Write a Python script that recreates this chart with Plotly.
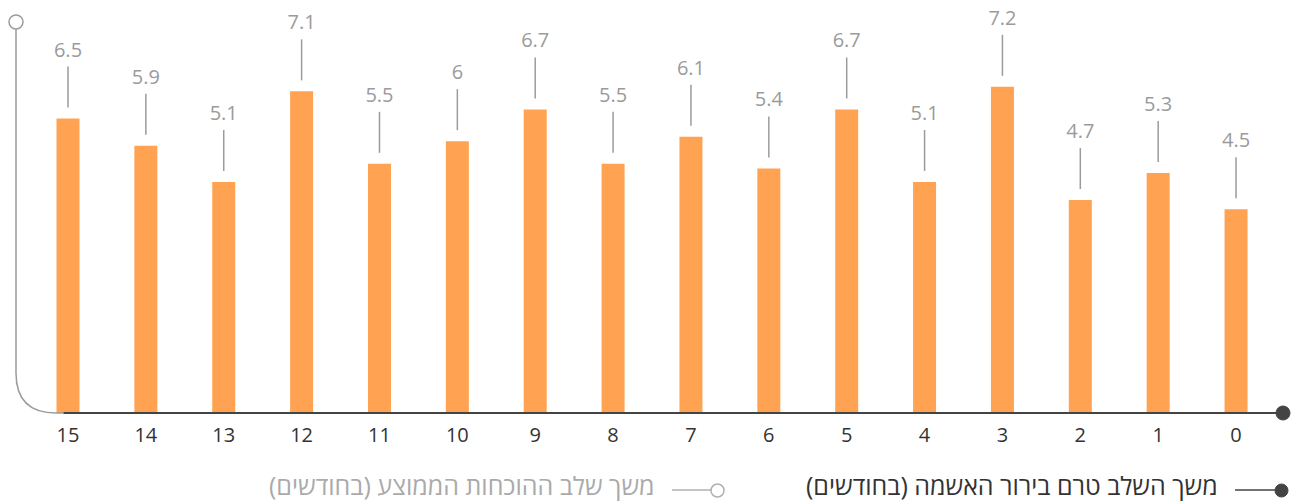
import plotly.graph_objects as go

# ערכים מתוך התרשים (חודשים), משמאל לימין
categories = [15, 14, 13, 12, 11, 10, 9, 8, 7, 6, 5, 4, 3, 2, 1, 0]
values = [6.5, 5.9, 5.1, 7.1, 5.5, 6.0, 6.7, 5.5, 6.1, 5.4, 6.7, 5.1, 7.2, 4.7, 5.3, 4.5]
legend_names = ["משך השלב טרם בירור האשמה (בחודשים)", "משך שלב ההוכחות הממוצע (בחודשים)"]

W, H = 1293, 502
BASE = 413          # y פיקסל של ציר האפס
PX_UNIT = 45.3      # פיקסלים ליחידה
X0, STEP = 68, 77.87

BAR = "#FFA352"
GREY = "#9b9b9b"
DARK = "#444444"
FONT = "Open Sans, DejaVu Sans, sans-serif"

idx = list(range(len(categories)))


def px(x):  # פיקסל -> paper
    return x / W


def py(y):
    return (BASE - y) / BASE


fig = go.Figure()

fig.add_bar(x=idx, y=values, width=23 / STEP, marker_color=BAR,
            marker_line_width=0, hoverinfo="skip")

# קווי הפניה מעל העמודות
lx, ly = [], []
for i, v in zip(idx, values):
    lx += [i, i, None]
    ly += [v + 11 / PX_UNIT, v + 52 / PX_UNIT, None]
fig.add_scatter(x=lx, y=ly, mode="lines", line=dict(color=GREY, width=1.5),
                hoverinfo="skip")

fig.add_scatter(x=idx, y=[v + 67 / PX_UNIT for v in values], mode="text",
                text=[f"{v:g}" for v in values],
                textfont=dict(family=FONT, size=20, color=GREY), hoverinfo="skip")

shapes = [
    # ציר x
    dict(type="line", xref="paper", yref="paper", x0=px(63), x1=px(1283),
         y0=py(BASE), y1=py(BASE), line=dict(color=DARK, width=2)),
    dict(type="circle", xref="paper", yref="paper", x0=px(1276), x1=px(1290),
         y0=py(406), y1=py(420), fillcolor=DARK, line=dict(color=DARK, width=1)),
    # ציר y עם פינה מעוגלת
    dict(type="path", xref="paper", yref="paper",
         path=f"M {px(16)},{py(29)} L {px(16)},{py(373)} "
              f"Q {px(16)},{py(BASE)} {px(56)},{py(BASE)} L {px(64)},{py(BASE)}",
         line=dict(color=GREY, width=1.5)),
    dict(type="circle", xref="paper", yref="paper", x0=px(9), x1=px(23),
         y0=py(15), y1=py(29), fillcolor="white", line=dict(color=GREY, width=1.5)),
    # מקרא
    dict(type="line", xref="paper", yref="paper", x0=px(1235), x1=px(1276),
         y0=py(490), y1=py(490), line=dict(color=DARK, width=1.5)),
    dict(type="circle", xref="paper", yref="paper", x0=px(1275), x1=px(1288),
         y0=py(484), y1=py(497), fillcolor=DARK, line=dict(color=DARK, width=1)),
    dict(type="line", xref="paper", yref="paper", x0=px(672), x1=px(712),
         y0=py(490), y1=py(490), line=dict(color="#b0b0b0", width=1.5)),
    dict(type="circle", xref="paper", yref="paper", x0=px(711), x1=px(724),
         y0=py(484), y1=py(497), fillcolor="white", line=dict(color="#b0b0b0", width=1.5)),
]

annotations = [
    dict(xref="paper", yref="paper", x=px(1219), y=py(485), xanchor="right",
         yanchor="middle", text=legend_names[0], showarrow=False, borderpad=0,
         font=dict(family=FONT, size=25, color="#333333")),
    dict(xref="paper", yref="paper", x=px(656), y=py(485), xanchor="right",
         yanchor="middle", text=legend_names[1], showarrow=False, borderpad=0,
         font=dict(family=FONT, size=25, color="#aaaaaa")),
]

fig.update_layout(
    width=W, height=H,
    margin=dict(l=0, r=0, t=0, b=H - BASE),
    plot_bgcolor="white", paper_bgcolor="white",
    showlegend=False,
    shapes=shapes, annotations=annotations,
    xaxis=dict(range=[-X0 / STEP, (W - X0) / STEP], tickvals=idx,
               ticktext=[str(c) for c in categories], showgrid=False,
               zeroline=False, showline=False, ticks="", ticklabelstandoff=8,
               tickfont=dict(family=FONT, size=20, color="#333333")),
    yaxis=dict(range=[0, BASE / PX_UNIT], visible=False, showgrid=False),
)

# בלי שוליים לגוף הדף, כדי שהגרף ימלא את החלון
fig.write_html("out.html", config={"displayModeBar": False},
               post_script="document.body.style.margin='0';document.body.style.overflow='hidden';")
